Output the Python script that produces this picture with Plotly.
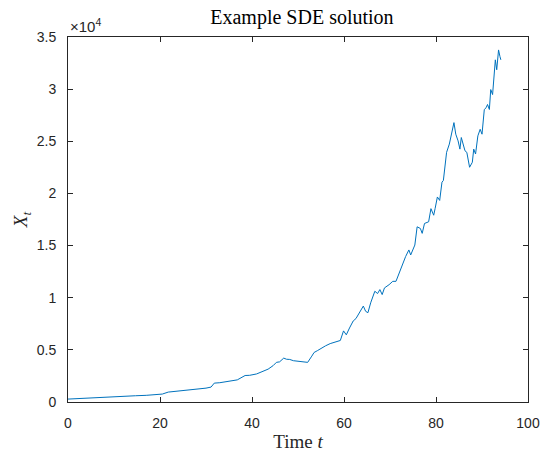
import plotly.graph_objects as go

# Time values
t = [0, 2, 4, 5.4, 7, 9.7, 12, 14.7, 17, 19, 20.5, 21.8, 23.9, 26, 28.2, 30, 31.1, 31.8,
     33, 35.3, 36.8, 38.5, 39.5, 41, 42.5, 43.5, 44.6, 45.3, 46, 46.9, 47.5, 48.2, 49,
     50.3, 51, 52.1, 53, 53.5, 54.2, 55, 56, 57, 57.8, 58.5, 59.2, 59.9, 60.5, 61.2, 62,
     62.6, 63.1, 63.8, 64.2, 64.7, 65.2, 65.8, 66.7, 67.3, 67.8, 68.3, 68.8, 69.8, 70.6,
     71.3, 72.4, 73.4, 74.1, 74.5, 75.4, 75.9, 76.6, 77.0, 77.5, 78.4, 78.9, 79.5, 79.8,
     80.3, 80.8, 81.3, 81.6, 82.3, 82.9, 83.4, 83.9, 84.3, 84.8, 85.2, 85.5, 86.3, 86.7,
     87.3, 87.9, 88.2, 88.6, 89.1, 89.6, 90.0, 90.5, 90.9, 91.2, 91.6, 91.9, 92.3, 92.9,
     93.2, 93.6, 93.9, 94.1]

# Solution values X_t
x_vals = [280, 330, 380, 410, 460, 540, 570, 600, 640, 670, 760, 950, 1050, 1110, 1270, 1330,
          1430, 1810, 1850, 2000, 2120, 2540, 2560, 2690, 3010, 3150, 3490, 3800, 3850, 4210,
          4100, 4080, 3960, 3900, 3850, 3800, 4400, 4750, 4920, 5150, 5390, 5600, 5700, 5750,
          5900, 6820, 6440, 7100, 7770, 8000, 8340, 8800, 9200, 8700, 8560, 9510, 10620, 10400,
          10780, 10300, 10940, 11250, 11570, 11570, 12840, 13950, 14580, 14100, 15050, 16800,
          16640, 16170, 17120, 17280, 18540, 17910, 18540, 19660, 19330, 21080, 21240, 23940,
          24730, 25680, 26790, 25680, 25040, 24250, 25360, 24090, 23940, 22510, 22990, 24250,
          23780, 25520, 26150, 25680, 28050, 28220, 28530, 28050, 29960, 29480, 32810, 31860,
          33760, 33130, 32810]

x_ticks = [0, 20, 40, 60, 80, 100]
y_ticks = [0, 5000, 10000, 15000, 20000, 25000, 30000, 35000]
y_tick_text = ["0", "0.5", "1", "1.5", "2", "2.5", "3", "3.5"]

axis_col = "#262626"
tick_font = dict(family="Liberation Sans, Arial, sans-serif", size=14, color=axis_col)
serif = "Liberation Serif, Times New Roman, serif"

fig = go.Figure()
fig.add_trace(go.Scatter(x=t, y=x_vals, mode="lines",
                         line=dict(color="#0072BD", width=1), showlegend=False))

common = dict(showline=True, mirror="allticks", linecolor=axis_col, linewidth=1,
              ticks="inside", ticklen=5, tickcolor=axis_col, tickwidth=1,
              showgrid=False, zeroline=False, tickfont=tick_font)

fig.update_xaxes(range=[0, 100], tickvals=x_ticks, ticklabelstandoff=8,
                 title=dict(text="Time <i>t</i>", font=dict(family=serif, size=19, color=axis_col),
                            standoff=4), **common)
fig.update_yaxes(range=[0, 35000], tickvals=y_ticks, ticktext=y_tick_text, ticklabelstandoff=8,
                 title=dict(text="<i>X</i><sub><i>t</i></sub>",
                            font=dict(family=serif, size=19, color=axis_col), standoff=4),
                 **common)

fig.add_annotation(text="×10<sup>4</sup>", xref="paper", yref="paper", x=0, y=1,
                   xanchor="left", yanchor="bottom", showarrow=False, yshift=0,
                   font=dict(family="Liberation Sans, Arial, sans-serif", size=15, color=axis_col))

fig.update_layout(
    width=552, height=460,
    margin=dict(l=68, r=16, t=37, b=55),
    paper_bgcolor="white", plot_bgcolor="white",
    title=dict(text="Example SDE solution", x=0.547, xanchor="center", y=0.962, yanchor="middle",
               font=dict(family=serif, size=20, color="black")),
)

fig.write_html("out.html")
